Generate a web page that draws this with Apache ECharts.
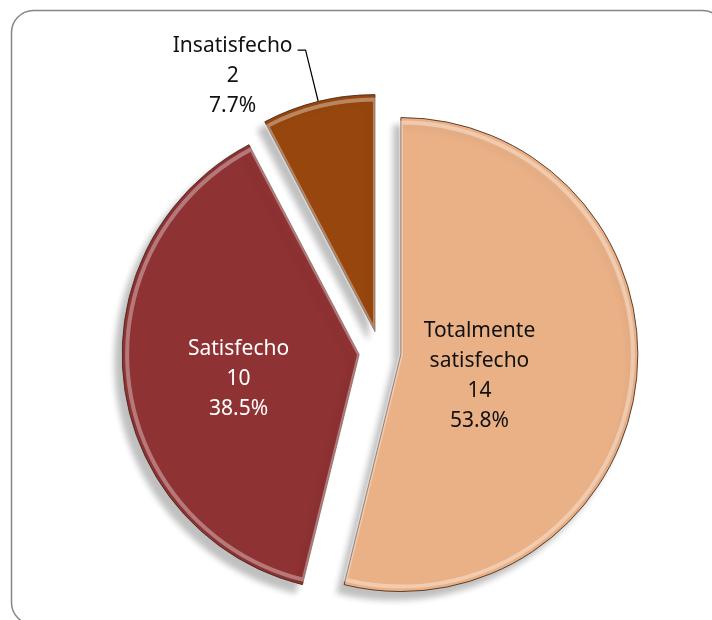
<!DOCTYPE html>
<html>
<head>
<meta charset="utf-8">
<script src="https://cdn.jsdelivr.net/npm/echarts@6/dist/echarts.min.js"></script>
<style>
  html, body { margin: 0; padding: 0; background: #fff; }
  #chart { width: 712px; height: 620px; }
</style>
</head>
<body>
<div id="chart"></div>
<script>
// datos de la encuesta
var categories = ['Totalmente satisfecho', 'Satisfecho', 'Insatisfecho'];
var counts = [14, 10, 2];
var sliceColors = ['#EAB187', '#8F3234', '#97470E'];
var labelColors = ['#111', '#fff', '#111'];

var chart = echarts.init(document.getElementById('chart'), null, { renderer: 'canvas' });

var pieData = categories.map(function (name, i) {
    var item = {
        name: name,
        value: counts[i],
        selected: true,
        itemStyle: { color: sliceColors[i] },
        label: { color: labelColors[i] }
    };
    if (i === 2) {
        item.label.position = 'outside';
        item.label.padding = [0, 0, 9, 0];
        item.label.formatter = function (p) {
            return '{a| }\n{a| }\n{a|' + p.name + '}\n{a|' + p.value + '}\n{a|' + p.percent.toFixed(1) + '%}';
        };
    }
    return item;
});

// capa de brillo en el borde (efecto bisel)
var bevelData = categories.map(function (name, i) {
    return { name: name, value: counts[i], selected: true };
});

var option = {
    backgroundColor: '#fff',
    animation: false,
    graphic: [{
        type: 'rect',
        shape: { x: 11.5, y: 10.5, width: 713, height: 614, r: 22 },
        style: { fill: 'none', stroke: '#868686', lineWidth: 1.5 },
        silent: true
    }],
    series: [{
        type: 'pie',
        center: [380, 352],
        radius: 237,
        startAngle: 90,
        clockwise: true,
        selectedMode: 'multiple',
        selectedOffset: 21,
        percentPrecision: 1,
        avoidLabelOverlap: false,
        itemStyle: {
            borderColor: 'rgba(70,40,25,0.85)',
            borderWidth: 1,
            shadowBlur: 6,
            shadowOffsetX: -7,
            shadowOffsetY: 8,
            shadowColor: 'rgba(0,0,0,0.25)'
        },
        select: {
            itemStyle: {
                borderColor: 'rgba(70,40,25,0.85)',
                borderWidth: 1
            }
        },
        emphasis: { disabled: true },
        label: {
            show: true,
            position: 'inside',
            fontFamily: 'Noto Sans',
            fontSize: 21,
            lineHeight: 30,
            align: 'center',
            formatter: function (p) {
                return p.name.replace(' ', '\n') + '\n' + p.value + '\n' + p.percent.toFixed(1) + '%';
            },
            rich: {
                a: { fontFamily: 'Noto Sans', fontSize: 21, lineHeight: 30, align: 'center', color: '#111' }
            }
        },
        labelLine: {
            show: true,
            length: 53,
            length2: 8,
            smooth: false,
            lineStyle: { color: '#000', width: 1.2 }
        },
        labelLayout: function (p) {
            if (p.dataIndex === 0) return { dx: -42, dy: 7 };
            if (p.dataIndex === 1) return { dy: 10 };
            return {};
        },
        z: 2,
        data: pieData
    }, {
        type: 'pie',
        center: [380, 352],
        radius: 232,
        startAngle: 90,
        clockwise: true,
        selectedMode: 'multiple',
        selectedOffset: 21,
        silent: true,
        label: { show: false },
        labelLine: { show: false },
        emphasis: { disabled: true },
        itemStyle: {
            color: 'rgba(0,0,0,0)',
            borderColor: 'rgba(255,255,255,0.35)',
            borderWidth: 4
        },
        select: {
            itemStyle: {
                color: 'rgba(0,0,0,0)',
                borderColor: 'rgba(255,255,255,0.35)',
                borderWidth: 4
            }
        },
        z: 3,
        data: bevelData
    }]
};

chart.setOption(option);
</script>
</body>
</html>
